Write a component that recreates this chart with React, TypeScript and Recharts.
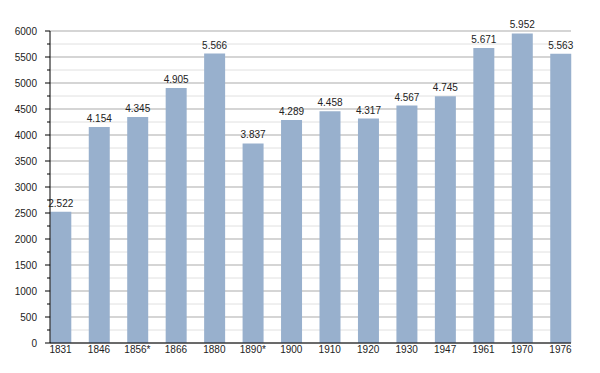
import React from 'react';
import { BarChart, Bar, XAxis, YAxis, CartesianGrid, LabelList } from 'recharts';

// population by census year (* = irregular census)
const years = ['1831', '1846', '1856*', '1866', '1880', '1890*', '1900', '1910', '1920', '1930', '1947', '1961', '1970', '1976'];
const population = [2522, 4154, 4345, 4905, 5566, 3837, 4289, 4458, 4317, 4567, 4745, 5671, 5952, 5563];
const yTicks = [
  0, 250, 500, 750, 1000, 1250, 1500, 1750, 2000, 2250, 2500, 2750, 3000,
  3250, 3500, 3750, 4000, 4250, 4500, 4750, 5000, 5250, 5500, 5750, 6000,
];

const data = years.map((year, i) => ({ year, value: population[i] }));

const AXIS_X = 50;
const FONT = '"Liberation Sans", Arial, sans-serif';

const fmt = (v: number) => `${Math.floor(v / 1000)}.${String(v % 1000).padStart(3, '0')}`;

function YTick(props: any) {
  const { y, payload } = props;
  const major = payload.value % 500 === 0;
  return (
    <g>
      <line x1={AXIS_X - (major ? 5 : 3)} x2={AXIS_X} y1={y} y2={y} stroke="#000" strokeWidth={1} />
      {major && (
        <text x={37} y={y} dy={3.6} textAnchor="end" fontSize={10} fill="#222" fontFamily={FONT}>
          {payload.value}
        </text>
      )}
    </g>
  );
}

function GridLine(props: any) {
  const { x1, x2, y1, y2, index } = props;
  const major = index % 2 === 0;
  return <line x1={x1} x2={x2} y1={y1} y2={y2} stroke={major ? '#ababab' : '#e0e0e0'} strokeWidth={1} />;
}

export default function App() {
  return (
    <div style={{ width: 600, height: 373, background: '#fff' }}>
      <style>{'body{margin:0}'}</style>
      <BarChart width={600} height={373} data={data} margin={{ top: 31, right: 29, bottom: 0, left: 0 }}>
        <CartesianGrid vertical={false} horizontal={GridLine} />
        <XAxis
          dataKey="year"
          height={30}
          padding={{ left: -8.7, right: -8.7 }}
          tickLine={false}
          tickSize={0}
          tickMargin={3}
          axisLine={{ stroke: '#000' }}
          tick={{ fontSize: 10, fill: '#222', fontFamily: FONT }}
          interval={0}
        />
        <YAxis
          width={50}
          domain={[0, 6000]}
          ticks={yTicks}
          interval={0}
          tickLine={false}
          axisLine={{ stroke: '#000' }}
          tick={<YTick />}
        />
        <Bar dataKey="value" fill="#98b0cd" barSize={21} isAnimationActive={false}>
          <LabelList
            dataKey="value"
            position="top"
            offset={5}
            formatter={(v: any) => fmt(Number(v))}
            style={{ fontSize: 10, fill: '#222', fontFamily: FONT }}
          />
        </Bar>
      </BarChart>
    </div>
  );
}
